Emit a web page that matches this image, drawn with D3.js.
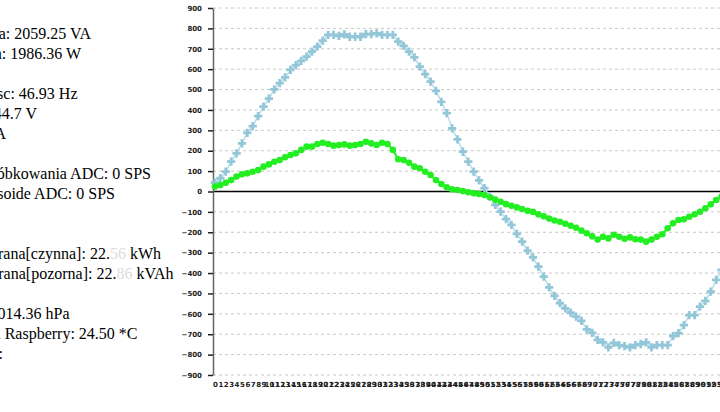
<!DOCTYPE html>
<html>
<head>
<meta charset="utf-8">
<script src="https://cdn.jsdelivr.net/npm/d3@7"></script>
<style>
  body { margin: 0; overflow: hidden; background: #fff; }
  svg { display: block; }
</style>
</head>
<body>
<svg id="wykres"></svg>
<script>
'use strict';

let WIDTH = 720;
let HEIGHT = 412;

// probki napiecia (niebieski) i pradu (zielony)
let napiecie = [43, 65, 97, 146, 187, 236, 288, 321, 370, 416,
    455, 501, 531, 560, 596, 620, 641, 661, 686, 710,
    740, 768, 768, 763, 771, 759, 759, 759, 772, 772,
    776, 768, 768, 768, 735, 714, 686, 658, 612, 576,
    539, 494, 440, 384, 310, 256, 195, 146, 97, 55,
    16, -25, -66, -99, -136, -164, -208, -246, -290, -323,
    -369, -418, -470, -512, -548, -573, -594, -614, -634, -676,
    -693, -728, -740, -764, -742, -753, -758, -764, -753, -748,
    -740, -764, -753, -753, -753, -709, -695, -655, -606, -606,
    -565, -537, -491, -434, -385, -330];
let prad = [24, 32, 43, 56, 73, 84, 89, 97, 105, 122,
    133, 146, 154, 168, 179, 187, 204, 220, 220, 233,
    239, 233, 225, 228, 231, 225, 228, 233, 244, 236,
    228, 239, 233, 204, 158, 154, 141, 122, 114, 97,
    81, 56, 37, 21, 11, 7, 2, -4, -8, -12,
    -17, -28, -40, -50, -62, -70, -78, -86, -95, -100,
    -112, -122, -133, -142, -148, -158, -168, -178, -192, -205,
    -220, -236, -222, -230, -212, -222, -232, -225, -234, -236,
    -246, -236, -222, -210, -180, -156, -140, -136, -124, -112,
    -99, -82, -63, -42, -25, -8];
let indeksy = napiecie.map(function(d, i) { return i; });
let yTicks = [900, 800, 700, 600, 500, 400, 300, 200, 100, 0,
    -100, -200, -300, -400, -500, -600, -700, -800, -900];

// tekst z lewej strony (strona przewinieta w prawo)
let linie = [
    { n: 0, t: ['Moc pozorna: 2059.25 VA'], x: 91 },
    { n: 1, t: ['Moc czynna: 1986.36 W'], x: 81 },
    { n: 3, t: ['Częstotliwosc: 46.93 Hz'], x: 77.5 },
    { n: 4, t: ['Napięcie: 244.7 V'], x: 37 },
    { n: 5, t: ['Prąd: 8.43 A'], x: 6 },
    { n: 7, t: ['Częstotliwość próbkowania ADC: 0 SPS'], x: 151 },
    { n: 8, t: ['Próbek na sinusoide ADC: 0 SPS'], x: 115 },
    { n: 11, t: ['Energia pobrana[czynna]: 22.', '56', ' kWh'], x: 161 },
    { n: 12, t: ['Energia pobrana[pozorna]: 22.', '86', ' kVAh'], x: 173.5 },
    { n: 14, t: ['Ciśnienie: 1014.36 hPa'], x: 69.5 },
    { n: 15, t: ['Temperatura Raspberry: 24.50 *C'], x: 137.5 },
    { n: 16, t: ['Wilgotność:'], x: 3 }
];

let svg = d3.select('#wykres').attr('width', WIDTH).attr('height', HEIGHT);

let x = d3.scaleLinear().domain([0, indeksy.length - 1]).range([215, 215 + 5.389 * (indeksy.length - 1)]);
let y = d3.scaleLinear().domain([-900, 900]).range([375, 8]);

// text
let tekst = svg.append('g')
    .attr('font-family', '"Liberation Serif", "Times New Roman", serif')
    .attr('font-size', '16px')
    .attr('fill', '#000');
linie.forEach(function(l) {
    let t = tekst.append('text')
        .attr('x', l.x)
        .attr('y', 38.5 + 20 * l.n)
        .attr('text-anchor', 'end');
    l.t.forEach(function(s, i) {
        t.append('tspan').attr('fill', i == 1 ? '#dcdcdc' : '#000').text(s);
    });
});

// grid
svg.append('g')
    .selectAll('line')
    .data(yTicks.filter(function(d) { return d != 0; }))
    .enter()
    .append('line')
    .attr('x1', 213)
    .attr('x2', WIDTH)
    .attr('y1', function(d) { return y(d); })
    .attr('y2', function(d) { return y(d); })
    .attr('stroke', '#c8c8c8')
    .attr('stroke-width', 1)
    .attr('stroke-dasharray', '3,3');

// zero line
svg.append('line')
    .attr('x1', 213)
    .attr('x2', WIDTH)
    .attr('y1', y(0))
    .attr('y2', y(0))
    .attr('stroke', '#000')
    .attr('stroke-width', 1.5);

// y axis
let yAxis = svg.append('g')
    .attr('transform', 'translate(213,0)')
    .call(d3.axisLeft(y).tickValues(yTicks).tickSize(5).tickSizeOuter(0).tickPadding(6));
yAxis.select('.domain').attr('stroke', '#666').attr('stroke-width', 1.5);
yAxis.selectAll('.tick line').attr('stroke', '#222').attr('stroke-width', 1.5);
yAxis.selectAll('text')
    .attr('font-family', '"DejaVu Sans", Verdana, sans-serif')
    .attr('font-size', '7px')
    .attr('font-weight', 'bold')
    .attr('fill', '#222');

// x axis labels
let xAxis = svg.append('g')
    .attr('transform', 'translate(0,378)')
    .call(d3.axisBottom(x).tickValues(indeksy).tickFormat(d3.format('d')).tickSize(0).tickPadding(4));
xAxis.select('.domain').remove();
xAxis.selectAll('text')
    .attr('font-family', '"DejaVu Sans", Verdana, sans-serif')
    .attr('font-size', '7px')
    .attr('font-weight', 'bold')
    .attr('fill', '#222');

// voltage series
let linia = d3.line()
    .x(function(d, i) { return x(i); })
    .y(function(d) { return y(d); });

svg.append('path')
    .datum(napiecie)
    .attr('d', linia)
    .attr('fill', 'none')
    .attr('stroke', '#b4dde8')
    .attr('stroke-width', 1.5);
svg.append('g')
    .selectAll('path')
    .data(napiecie)
    .enter()
    .append('path')
    .attr('transform', function(d, i) { return 'translate(' + x(i) + ',' + y(d) + ')'; })
    .attr('d', d3.symbol().type(d3.symbolCross).size(38))
    .attr('fill', '#93c6d8');

// current series
svg.append('path')
    .datum(prad)
    .attr('d', linia)
    .attr('fill', 'none')
    .attr('stroke', '#22ee22')
    .attr('stroke-width', 2);
svg.append('g')
    .selectAll('circle')
    .data(prad)
    .enter()
    .append('circle')
    .attr('cx', function(d, i) { return x(i); })
    .attr('cy', function(d) { return y(d); })
    .attr('r', 3.3)
    .attr('fill', '#22ee22');
</script>
</body>
</html>
